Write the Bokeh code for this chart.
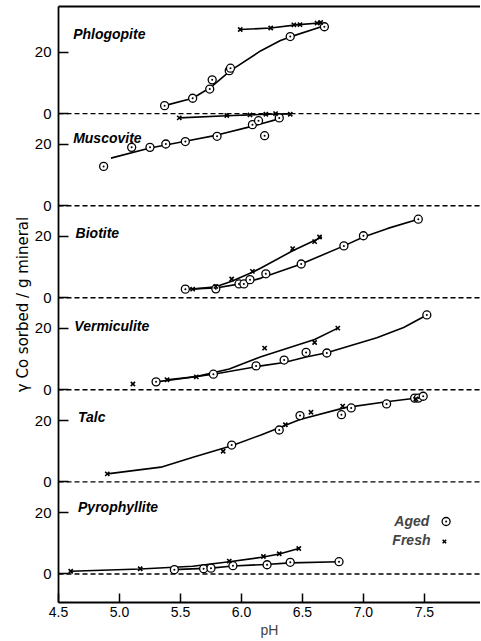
import math
from bokeh.plotting import figure
from bokeh.models import Range1d, LinearAxis, FixedTicker, Span, Label, Title
from bokeh.embed import file_html
from bokeh.resources import INLINE

# ---------------- data ----------------
panel_names = ["Phlogopite", "Muscovite", "Biotite", "Vermiculite", "Talc", "Pyrophyllite"]
panel_offsets = [150, 120, 90, 60, 30, 0]   # each panel shifted 30 units

ph_ticks = [4.5, 5.0, 5.5, 6.0, 6.5, 7.0, 7.5]
ph_tick_labels = ["4.5", "5.0", "5.5", "6.0", "6.5", "7.0", "7.5"]
y_local_ticks = [0, 20]
y_local_labels = ["0", "20"]

# Phlogopite
phlog_aged_ph = [5.37, 5.60, 5.74, 5.76, 5.90, 5.91, 6.40, 6.68]
phlog_aged_val = [2.6, 5.0, 8.0, 11.0, 14.0, 14.8, 25.1, 28.3]
phlog_fresh_ph = [5.99, 6.24, 6.43, 6.48, 6.62, 6.65]
phlog_fresh_val = [27.4, 27.9, 28.9, 29.0, 29.5, 29.7]
phlog_aged_fit_ph = [5.37, 5.60, 5.75, 5.91, 6.16, 6.32, 6.40, 6.68]
phlog_aged_fit_val = [2.6, 5.0, 8.6, 14.0, 20.5, 23.8, 25.0, 28.6]
phlog_fresh_fit_ph = [5.99, 6.24, 6.45, 6.66]
phlog_fresh_fit_val = [27.4, 27.9, 28.9, 29.6]

# Muscovite
musc_aged_ph = [4.87, 5.10, 5.25, 5.38, 5.54, 5.80, 6.09, 6.14, 6.19, 6.31]
musc_aged_val = [12.8, 19.0, 19.0, 20.1, 20.9, 22.6, 26.4, 27.7, 22.8, 28.6]
musc_fresh_ph = [5.49, 5.88, 6.07, 6.20, 6.28, 6.40]
musc_fresh_val = [28.6, 29.4, 29.6, 29.8, 30.0, 29.8]
musc_aged_fit_ph = [4.93, 5.25, 5.54, 5.80, 6.10, 6.30]
musc_aged_fit_val = [15.5, 18.8, 21.0, 23.0, 26.0, 28.2]
musc_fresh_fit_ph = [5.49, 5.88, 6.20, 6.40]
musc_fresh_fit_val = [28.6, 29.3, 29.8, 29.9]

# Biotite
bio_aged_ph = [5.54, 5.79, 5.98, 6.02, 6.07, 6.20, 6.49, 6.84, 7.00, 7.45]
bio_aged_val = [2.8, 2.9, 4.5, 4.5, 5.9, 7.8, 11.0, 16.9, 20.2, 25.6]
bio_fresh_ph = [5.60, 5.79, 5.92, 6.09, 6.42, 6.60, 6.64]
bio_fresh_val = [2.8, 3.7, 6.1, 8.6, 16.0, 18.3, 19.8]
bio_aged_fit_ph = [5.54, 5.79, 6.00, 6.16, 6.49, 6.84, 7.00, 7.20, 7.45]
bio_aged_fit_val = [2.8, 3.2, 4.6, 6.4, 11.0, 16.9, 19.8, 22.6, 25.6]
bio_fresh_fit_ph = [5.60, 5.79, 5.92, 6.09, 6.16, 6.42, 6.66]
bio_fresh_fit_val = [2.8, 3.6, 5.4, 8.3, 9.7, 15.3, 19.8]

# Vermiculite
verm_aged_ph = [5.30, 5.77, 6.12, 6.35, 6.53, 6.70, 7.52]
verm_aged_val = [2.6, 5.1, 7.8, 9.7, 12.2, 12.0, 24.4]
verm_fresh_ph = [5.11, 5.39, 5.63, 6.19, 6.60, 6.79]
verm_fresh_val = [1.9, 3.3, 4.2, 13.6, 15.4, 20.1]
verm_aged_fit_ph = [5.30, 5.50, 5.77, 6.16, 6.35, 6.53, 6.70, 7.11, 7.33, 7.52]
verm_aged_fit_val = [2.6, 3.6, 5.1, 7.8, 8.9, 10.7, 12.1, 17.0, 20.3, 24.4]
verm_fresh_fit_ph = [5.39, 5.63, 5.90, 6.16, 6.60, 6.79]
verm_fresh_fit_val = [3.3, 4.3, 6.8, 10.8, 16.4, 20.1]

# Talc
talc_aged_ph = [5.92, 6.31, 6.48, 6.82, 6.90, 7.19, 7.42, 7.45, 7.49]
talc_aged_val = [12.0, 16.9, 21.6, 21.9, 24.1, 25.4, 27.3, 27.3, 27.9]
talc_fresh_ph = [4.90, 5.85, 6.36, 6.57, 6.83, 7.43]
talc_fresh_val = [2.6, 10.0, 18.6, 22.7, 24.7, 27.0]
talc_fit_ph = [4.90, 5.34, 5.61, 5.92, 6.16, 6.48, 6.85, 7.19, 7.49]
talc_fit_val = [2.6, 4.8, 8.1, 11.8, 15.3, 20.3, 24.2, 26.1, 27.6]

# Pyrophyllite
pyro_aged_ph = [5.45, 5.69, 5.75, 5.93, 6.21, 6.40, 6.80]
pyro_aged_val = [1.4, 1.7, 1.9, 2.7, 3.0, 3.8, 4.0]
pyro_fresh_ph = [4.60, 5.17, 5.90, 6.18, 6.31, 6.47]
pyro_fresh_val = [0.9, 1.7, 4.2, 5.7, 6.6, 8.3]
pyro_aged_fit_ph = [5.44, 5.75, 5.93, 6.20, 6.40, 6.80]
pyro_aged_fit_val = [1.4, 1.9, 2.6, 3.1, 3.6, 4.0]
pyro_fresh_fit_ph = [4.60, 5.17, 5.60, 5.90, 6.18, 6.31, 6.47]
pyro_fresh_fit_val = [0.9, 1.6, 2.5, 4.0, 5.5, 6.5, 8.3]

legend_labels = ["Aged", "Fresh"]

# ---------------- figure ----------------
p = figure(width=480, height=640, output_backend="svg", toolbar_location=None,
           x_range=Range1d(4.5, 7.96), y_range=Range1d(-9.3, 184.9),
           min_border_left=58, min_border_right=0, min_border_top=6, min_border_bottom=38,
           x_axis_location=None, y_axis_location=None)
p.grid.visible = False
p.outline_line_color = None
p.background_fill_color = "white"
p.border_fill_color = "white"

FONT = "Liberation Sans"

# bottom axis
xax = LinearAxis(ticker=FixedTicker(ticks=ph_ticks),
                 major_label_overrides={t: l for t, l in zip(ph_ticks, ph_tick_labels)},
                 axis_label="pH")
xax.axis_line_width = 2
xax.major_tick_in = 9
xax.major_tick_out = 0
xax.major_tick_line_width = 1.5
xax.minor_tick_line_color = None
xax.major_label_text_font = FONT
xax.major_label_text_font_size = "14px"
xax.major_label_text_color = "black"
xax.major_label_standoff = 4
xax.axis_label_text_font = FONT
xax.axis_label_text_font_size = "14px"
xax.axis_label_text_font_style = "normal"
xax.axis_label_standoff = 2
p.add_layout(xax, "below")

# left axis
y_ticks, y_labels = [], {}
for off in panel_offsets:
    for t, l in zip(y_local_ticks, y_local_labels):
        y_ticks.append(off + t)
        y_labels[off + t] = l
yax = LinearAxis(ticker=FixedTicker(ticks=y_ticks), major_label_overrides=y_labels)
yax.axis_line_width = 1.8
yax.major_tick_in = 10
yax.major_tick_out = 0
yax.major_tick_line_width = 1.5
yax.minor_tick_line_color = None
yax.major_label_text_font = FONT
yax.major_label_text_font_size = "15px"
yax.major_label_text_color = "black"
yax.major_label_standoff = 7
p.add_layout(yax, "left")

# y axis title (placed off-centre as in the reference)
p.add_layout(Title(text="γ Co sorbed / g mineral", align="center", offset=24,
                   text_font="DejaVu Sans", text_font_size="15px",
                   text_font_style="normal", text_color="black", standoff=0), "left")

# top border line
tax = LinearAxis(ticker=FixedTicker(ticks=[]))
tax.axis_line_width = 2
tax.major_tick_line_color = None
tax.minor_tick_line_color = None
tax.major_label_text_font_size = "0px"
p.add_layout(tax, "above")

# dashed zero lines
for off in panel_offsets:
    p.add_layout(Span(location=off, dimension="width", line_color="black",
                      line_width=1.4, line_dash="5 3"))

def shift(vals, off):
    return [v + off for v in vals]

LW = 1.6
series = [
    (150, phlog_aged_ph, phlog_aged_val, phlog_fresh_ph, phlog_fresh_val,
     [(phlog_aged_fit_ph, phlog_aged_fit_val), (phlog_fresh_fit_ph, phlog_fresh_fit_val)]),
    (120, musc_aged_ph, musc_aged_val, musc_fresh_ph, musc_fresh_val,
     [(musc_aged_fit_ph, musc_aged_fit_val), (musc_fresh_fit_ph, musc_fresh_fit_val)]),
    (90, bio_aged_ph, bio_aged_val, bio_fresh_ph, bio_fresh_val,
     [(bio_aged_fit_ph, bio_aged_fit_val), (bio_fresh_fit_ph, bio_fresh_fit_val)]),
    (60, verm_aged_ph, verm_aged_val, verm_fresh_ph, verm_fresh_val,
     [(verm_aged_fit_ph, verm_aged_fit_val), (verm_fresh_fit_ph, verm_fresh_fit_val)]),
    (30, talc_aged_ph, talc_aged_val, talc_fresh_ph, talc_fresh_val,
     [(talc_fit_ph, talc_fit_val)]),
    (0, pyro_aged_ph, pyro_aged_val, pyro_fresh_ph, pyro_fresh_val,
     [(pyro_aged_fit_ph, pyro_aged_fit_val), (pyro_fresh_fit_ph, pyro_fresh_fit_val)]),
]

for off, aph, aval, fph, fval, fits in series:
    for fx, fy in fits:
        p.line(fx, shift(fy, off), line_color="black", line_width=LW)
    p.scatter(aph, shift(aval, off), marker="circle_dot", size=8,
              fill_color="white", line_color="black", line_width=1.3)
    p.scatter(fph, shift(fval, off), marker="x", size=6,
              line_color="black", line_width=1.6)

# panel names
name_pos = [(4.62, 176.1), (4.62, 141.9), (4.64, 111.2), (4.63, 80.9), (4.66, 51.3), (4.66, 21.7)]
for name, (nx, ny) in zip(panel_names, name_pos):
    p.add_layout(Label(x=nx, y=ny, text=name, text_font=FONT, text_font_size="14px",
                       text_font_style="bold italic", text_baseline="middle",
                       text_align="left", text_color="black"))

# legend (symbol to the right of the word)
p.add_layout(Label(x=7.54, y=17.1, text=legend_labels[0], text_font=FONT, text_font_size="14px",
                   text_font_style="bold italic", text_baseline="middle", text_align="right"))
p.add_layout(Label(x=7.55, y=11.0, text=legend_labels[1], text_font=FONT, text_font_size="14px",
                   text_font_style="bold italic", text_baseline="middle", text_align="right"))
p.scatter([7.678], [17.1], marker="circle_dot", size=8, fill_color="white",
          line_color="black", line_width=1.3)
p.scatter([7.664], [10.6], marker="x", size=5, line_color="black", line_width=1.5)

open("out.html", "w").write(file_html(p, INLINE))
